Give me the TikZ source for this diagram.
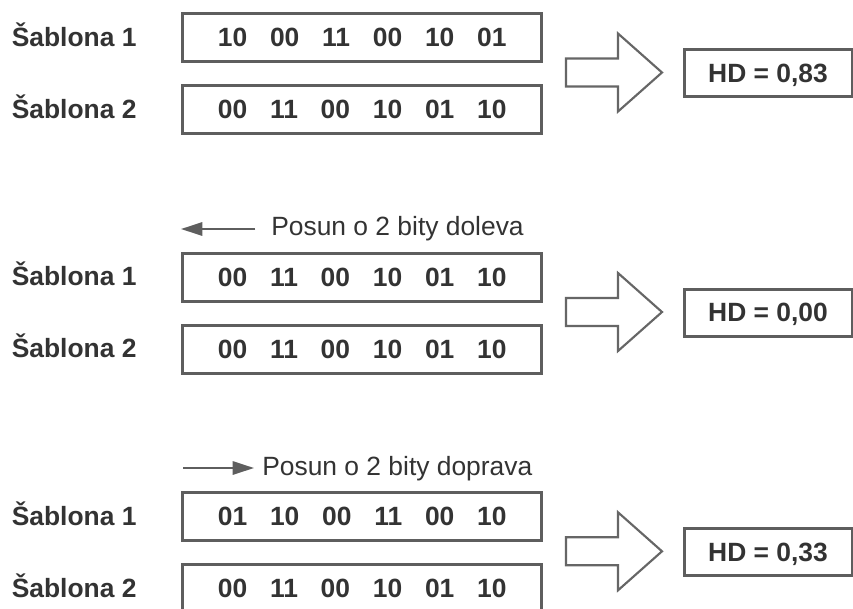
\documentclass[tikz,border=0pt]{standalone}
\usepackage{fontspec}
\setmainfont{Liberation Sans}
\usetikzlibrary{arrows.meta}
\definecolor{txt}{HTML}{333333}
\definecolor{edge}{HTML}{5E5E5E}
\definecolor{aedge}{HTML}{666666}
\newcommand\pairs[6]{#1\hspace{17.1pt}#2\hspace{17.1pt}#3\hspace{17.1pt}#4\hspace{17.1pt}#5\hspace{17.1pt}#6}
\newcommand\drawgroup[5]{%
 \begin{scope}[shift={(0,#1)}]
  \node[lbl] (#2l1) at (11.5,46.3) {Šablona 1};
  \node[lbl] (#2l2) at (11.5,118.3) {Šablona 2};
  \node[seqbox] (#2s1) at (362.25,37.5) {#3};
  \node[seqbox] (#2s2) at (362.25,109.5) {#4};
  \draw[fat] (566,58.5) -- (618,58.5) -- (618,33.5) -- (662,72.5) -- (618,111.5) -- (618,86.5) -- (566,86.5) -- cycle;
  \node[hdbox] (#2h) at (768,73) {HD = #5};
 \end{scope}}
\begin{document}
\begin{tikzpicture}[x=0.75pt,y=-0.75pt,
  bigfont/.style={font=\fontsize{19.8}{23}\selectfont\bfseries},
  seqbox/.style={draw=edge,line width=2.25pt,minimum width=268.9pt,minimum height=36pt,inner sep=0pt,text depth=0pt,text=txt,bigfont},
  hdbox/.style={draw=edge,line width=2.25pt,minimum width=126pt,minimum height=35.25pt,inner sep=0pt,text depth=0pt,text=txt,bigfont},
  lbl/.style={anchor=base west,inner sep=0pt,text=txt,bigfont},
  fat/.style={draw=aedge,line width=1.6pt,line join=miter,fill=white},
  shiftarrow/.style={draw=edge,line width=1.5pt,-{Triangle[length=16pt,width=10pt]},fill=edge},
  note/.style={anchor=base west,inner sep=0pt,text=txt,font=\fontsize{19.8}{23}\selectfont}
]
\useasboundingbox (0,0) rectangle (853,608);
\clip (0,0) rectangle (853,608);
\fill[white] (0,0) rectangle (853,608);

\drawgroup{0}{a}{\pairs{10}{00}{11}{00}{10}{01}}{\pairs{00}{11}{00}{10}{01}{10}}{0,83}
\drawgroup{239.5}{b}{\pairs{00}{11}{00}{10}{01}{10}}{\pairs{00}{11}{00}{10}{01}{10}}{0,00}
\drawgroup{478.8}{c}{\pairs{01}{10}{00}{11}{00}{10}}{\pairs{00}{11}{00}{10}{01}{10}}{0,33}

\coordinate (dlA) at (255,229);
\coordinate (dlB) at (181,229);
\draw[shiftarrow] (dlA) -- (dlB);
\node[note] (dlT) at (271,235) {Posun o 2 bity doleva};

\coordinate (dpA) at (183,468);
\coordinate (dpB) at (254,468);
\draw[shiftarrow] (dpA) -- (dpB);
\node[note] (dpT) at (262,475) {Posun o 2 bity doprava};
\end{tikzpicture}
\end{document}
